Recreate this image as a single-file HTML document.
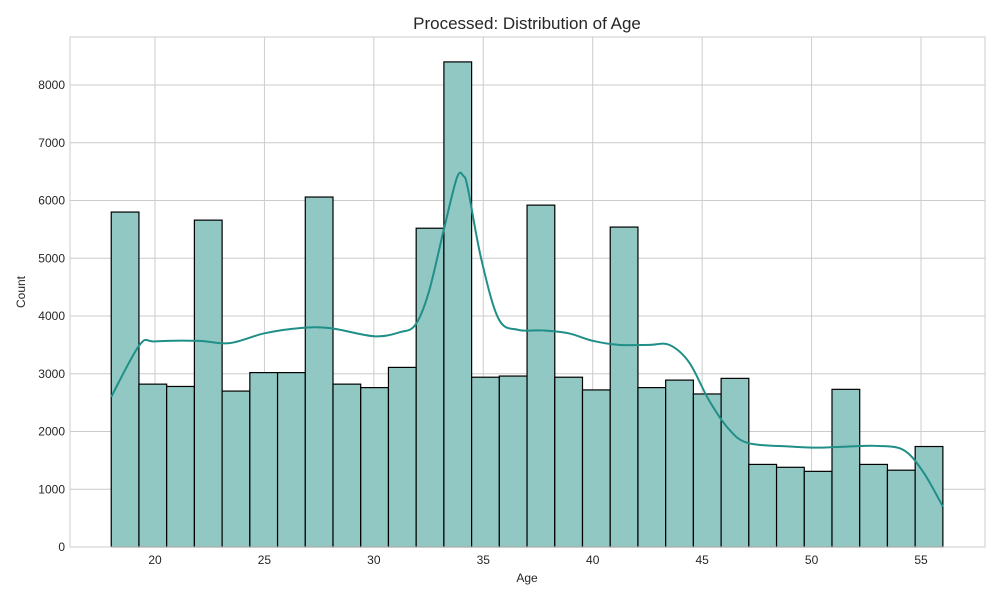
<!DOCTYPE html>
<html><head><meta charset="utf-8"><style>
body{margin:0;background:#fff;}
svg text{font-family:"Liberation Sans",sans-serif;fill:#262626;}
</style></head><body>
<svg id="chart" width="1000" height="600" xmlns="http://www.w3.org/2000/svg">
<rect width="1000" height="600" fill="#fff"/>
<text x="527" y="29" font-size="17" text-anchor="middle">Processed: Distribution of Age</text>
<g id="grid"></g>
<g id="bars"></g>
<path id="kde" fill="none" stroke="#1f8f87" stroke-width="2"/>
<rect x="70" y="37" width="915" height="510" fill="none" stroke="#cccccc" stroke-width="1"/>
<g id="ticks"></g>
<text x="527" y="582" font-size="12" text-anchor="middle">Age</text>
<text x="25" y="292" font-size="12" text-anchor="middle" transform="rotate(-90 25 292)">Count</text>
</svg>
<script>
const binStart = 18, binEnd = 56;
const counts = [5800,2820,2780,5660,2700,3020,3020,6060,2820,2760,3110,5520,8400,2940,2960,5920,2940,2720,5540,2760,2890,2650,2920,1430,1380,1310,2730,1430,1330,1740];
const kdeAges = [18,19.3,20,22,23.4,25,26.6,28,30,31.2,31.9,32.5,33.2,33.8,34.1,34.3,34.9,35.7,36.6,37.7,38.9,40,41.2,42.6,43.5,44.4,45.3,46.2,47.1,49,50.3,51.7,53,54.2,55.1,56];
const kdeVals = [2600,3500,3560,3570,3530,3700,3790,3790,3650,3720,3850,4400,5500,6400,6420,6200,5000,3950,3760,3750,3700,3570,3500,3500,3500,3200,2550,2050,1800,1740,1720,1740,1750,1680,1300,700];
const xTicks = [20,25,30,35,40,45,50,55];
const yTicks = [0,1000,2000,3000,4000,5000,6000,7000,8000];
const NS="http://www.w3.org/2000/svg";
const X = v => 155 + (v-20)*(921-155)/35;
const Y = v => 547 - v*(547-85)/8000;
function mk(tag, attrs, parent){const e=document.createElementNS(NS,tag);for(const k in attrs)e.setAttribute(k,attrs[k]);parent.appendChild(e);return e;}
const grid=document.getElementById('grid'), bars=document.getElementById('bars'), ticks=document.getElementById('ticks');
xTicks.forEach(t=>{
  const l=mk('line',{x1:X(t),x2:X(t),y1:37,y2:547,stroke:'#cccccc','stroke-width':1},grid);
  
  
  const tx=mk('text',{x:X(t),y:564,'font-size':12,'text-anchor':'middle'},ticks);
  tx.textContent=t;
  
  
});
yTicks.forEach(t=>{
  const l=mk('line',{x1:70,x2:985,y1:Y(t),y2:Y(t),stroke:'#cccccc','stroke-width':1},grid);
  
  
  const tx=mk('text',{x:65,y:Y(t)+4,'font-size':12,'text-anchor':'end'},ticks);
  tx.textContent=t;
  
  
});
const bw=(binEnd-binStart)/counts.length;
counts.forEach((c,i)=>{
  const x0=X(binStart+i*bw), x1=X(binStart+(i+1)*bw);
  const r=mk('rect',{x:x0,y:Y(c),width:x1-x0,height:Y(0)-Y(c),fill:'#91c8c4',stroke:'#000','stroke-width':1.2},bars);
  
  
});
// smooth path via Catmull-Rom
const pts=kdeAges.map((a,i)=>[X(a),Y(kdeVals[i])]);
let d='M'+pts[0][0]+','+pts[0][1];
for(let i=0;i<pts.length-1;i++){
  const p0=pts[Math.max(i-1,0)],p1=pts[i],p2=pts[i+1],p3=pts[Math.min(i+2,pts.length-1)];
  const c1=[p1[0]+(p2[0]-p0[0])/6,p1[1]+(p2[1]-p0[1])/6];
  const c2=[p2[0]-(p3[0]-p1[0])/6,p2[1]-(p3[1]-p1[1])/6];
  d+=' C'+c1[0]+','+c1[1]+' '+c2[0]+','+c2[1]+' '+p2[0]+','+p2[1];
}
document.getElementById('kde').setAttribute('d',d);
</script>
</body></html>
